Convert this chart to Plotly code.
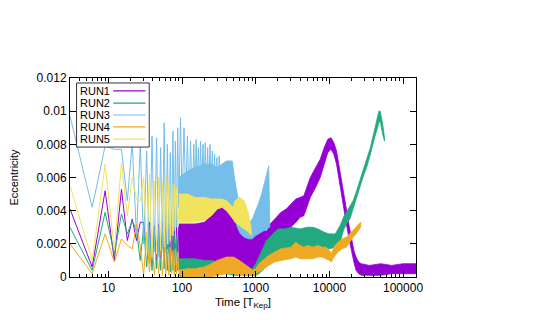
import math
import plotly.graph_objects as go

# ---------------- data ----------------
RUN_NAMES = ["RUN1", "RUN2", "RUN3", "RUN4", "RUN5"]
RUN_COLORS = ["#9400d3", "#22a97f", "#74bee9", "#eeaa24", "#f2e35c"]

# early, individually visible samples (t = 3 ... 90)
T_EARLY = [3, 6, 9, 12, 15, 18, 21, 24, 27, 30, 33, 36, 39, 42, 45,
           48, 51, 54, 57, 60, 63, 66, 69, 72, 75, 78, 81, 84, 87, 90]

RUN1_EARLY = [0.0041, 0.0006, 0.0052, 0.0010, 0.0053, 0.0022, 0.0035, 0.0022, 0.0033, 0.0033,
              0.0016, 0.0033, 0.0012, 0.0031, 0.0010,
              0.0032, 0.0011, 0.0033, 0.0009, 0.0031, 0.0010, 0.0032, 0.0009, 0.0031, 0.0010,
              0.0030, 0.0009, 0.0032, 0.0010, 0.0031]
RUN2_EARLY = [0.0030, 0.0004, 0.0039, 0.0014, 0.0038, 0.0026, 0.0034, 0.0028, 0.0010, 0.0030,
              0.0006, 0.0029, 0.0004, 0.0028, 0.0005,
              0.0027, 0.0004, 0.0026, 0.0005, 0.0027, 0.0004, 0.0026, 0.0003, 0.0025, 0.0004,
              0.0026, 0.0003, 0.0024, 0.0004, 0.0011]
RUN3_EARLY = [0.0097, 0.0042, 0.0079, 0.0077, 0.0077, 0.0046, 0.0081, 0.0024, 0.0080, 0.0020,
              0.0076, 0.0008, 0.0085, 0.0015, 0.0084,
              0.0012, 0.0078, 0.0018, 0.0093, 0.0015, 0.0080, 0.0020, 0.0075, 0.0025, 0.0088,
              0.0028, 0.0082, 0.0030, 0.0090, 0.0042]
RUN4_EARLY = [0.0020, 0.0002, 0.0026, 0.0009, 0.0023, 0.0019, 0.0017, 0.0032, 0.0018, 0.0001,
              0.0027, 0.0003, 0.0022, 0.0001, 0.0020,
              0.0002, 0.0019, 0.0001, 0.0018, 0.0002, 0.0017, 0.0001, 0.0018, 0.0002, 0.0016,
              0.0001, 0.0017, 0.0002, 0.0015, 0.0004]
RUN5_EARLY = [0.0055, 0.0010, 0.0068, 0.0016, 0.0069, 0.0037, 0.0060, 0.0047, 0.0046, 0.0060,
              0.0015, 0.0062, 0.0012, 0.0058, 0.0014,
              0.0060, 0.0016, 0.0057, 0.0018, 0.0062, 0.0020, 0.0058, 0.0022, 0.0055, 0.0025,
              0.0056, 0.0028, 0.0054, 0.0030, 0.0040]

# dense oscillating part: envelope (low / high) of each run
RUN1_T = [90, 120, 150, 200, 250, 300, 350, 400, 500, 600, 750, 900, 1000, 1200, 1500, 1800,
          2200, 2600, 3000, 3500, 4000, 4500, 5500, 6500, 7500, 8500, 9500, 10500, 11500, 12500,
          14000, 15500, 17000, 18500, 20000, 21500, 23000, 25000, 27000, 35000, 50000, 70000,
          100000, 150000]
RUN1_LO = [0.0009, 0.0009, 0.0009, 0.0008, 0.0008, 0.0008, 0.0008, 0.0008, 0.0007, 0.0005,
           0.0003, 0.0002, 0.0002, 0.0004, 0.0008, 0.0016, 0.0022, 0.0026, 0.0030, 0.0033,
           0.0036, 0.0037, 0.0048, 0.0054, 0.0060, 0.0068, 0.0075, 0.0077, 0.0074, 0.0068,
           0.0056, 0.0043, 0.0032, 0.0023, 0.0015, 0.0009, 0.0004, 0.0002, 0.0001, 0.0001,
           0.0001, 0.0002, 0.0002, 0.0002]
RUN1_HI = [0.0032, 0.0032, 0.0032, 0.0033, 0.0037, 0.0041, 0.0042, 0.0040, 0.0035, 0.0030,
           0.0027, 0.0025, 0.0026, 0.0029, 0.0031, 0.0035, 0.0039, 0.0041, 0.0044, 0.0047,
           0.0048, 0.0049, 0.0060, 0.0066, 0.0071, 0.0078, 0.0083, 0.0084, 0.0081, 0.0076,
           0.0064, 0.0052, 0.0041, 0.0031, 0.0023, 0.0016, 0.0012, 0.0009, 0.0008, 0.0007,
           0.0008, 0.0007, 0.0008, 0.0008]

RUN2_T = [90, 120, 150, 200, 250, 300, 400, 500, 700, 900, 1000, 1100, 1200, 1400, 1700, 2000,
          2500, 3000, 4000, 5000, 6000, 7000, 8500, 10000, 12000, 14000, 15500, 17000, 19000,
          21000, 23000, 26000, 29000, 32000, 36000, 40000, 44000, 47000, 49000, 51000, 53000,
          56000]
RUN2_LO = [0.0003, 0.0003, 0.0003, 0.0003, 0.0003, 0.0002, 0.0002, 0.0001, 0.0001, 0.0001,
           0.0001, 0.0002, 0.0003, 0.0006, 0.0010, 0.0013, 0.0015, 0.0016, 0.0017, 0.0016,
           0.0017, 0.0018, 0.0017, 0.0017, 0.0018, 0.0021, 0.0028, 0.0032, 0.0035, 0.0040,
           0.0046, 0.0054, 0.0061, 0.0066, 0.0074, 0.0082, 0.0089, 0.0093, 0.0094, 0.0090,
           0.0086, 0.0082]
RUN2_HI = [0.0011, 0.0011, 0.0011, 0.0010, 0.0010, 0.0009, 0.0008, 0.0007, 0.0006, 0.0005,
           0.0008, 0.0012, 0.0016, 0.0022, 0.0026, 0.0029, 0.0029, 0.0030, 0.0029, 0.0030,
           0.0030, 0.0029, 0.0027, 0.0026, 0.0026, 0.0031, 0.0036, 0.0039, 0.0042, 0.0046,
           0.0051, 0.0059, 0.0066, 0.0071, 0.0078, 0.0087, 0.0095, 0.0100, 0.0100, 0.0096,
           0.0092, 0.0084]

RUN3_T = [90, 120, 150, 200, 250, 300, 400, 480, 520, 560, 620, 700, 800, 900, 1000, 1100,
          1200, 1300, 1400, 1500, 1550]
RUN3_LO = [0.0040, 0.0041, 0.0042, 0.0045, 0.0045, 0.0044, 0.0042, 0.0040, 0.0036, 0.0030,
           0.0026, 0.0024, 0.0023, 0.0023, 0.0025, 0.0026, 0.0027, 0.0028, 0.0028, 0.0030,
           0.0030]
RUN3_HI = [0.0060, 0.0064, 0.0066, 0.0068, 0.0068, 0.0066, 0.0070, 0.0070, 0.0058, 0.0050,
           0.0040, 0.0031, 0.0032, 0.0035, 0.0040, 0.0045, 0.0050, 0.0056, 0.0062, 0.0067,
           0.0035]
# RUN3 spikes sticking out above its dense part
RUN3_SPIKE_T = [90, 95, 100, 106, 112, 118, 124, 130, 137, 144, 150, 155, 160, 166, 172, 178,
                185, 192, 199, 206, 214, 222, 230, 239, 248, 257, 266, 276, 286, 296, 307, 318,
                330, 342, 355]
RUN3_SPIKE = [0.0042, 0.0096, 0.0045, 0.0090, 0.0046, 0.0085, 0.0045, 0.0082, 0.0046, 0.0080,
              0.0048, 0.0083, 0.0050, 0.0078, 0.0052, 0.0082, 0.0050, 0.0080, 0.0052, 0.0081,
              0.0050, 0.0078, 0.0052, 0.0080, 0.0050, 0.0076, 0.0052, 0.0074, 0.0050, 0.0072,
              0.0050, 0.0073, 0.0050, 0.0068, 0.0050]

RUN4_T = [90, 120, 150, 200, 250, 300, 400, 500, 600, 700, 800, 900, 1000, 1100, 1300, 1500,
          1800, 2200, 3000, 3500, 4000, 4500, 5000, 6000, 7000, 8000, 9000, 10000, 10600, 11500,
          13000, 15000, 17000, 19000, 21000, 23000, 25000, 26600]
RUN4_LO = [0.0000, 0.0000, 0.0000, 0.0000, 0.0000, 0.0001, 0.0002, 0.0002, 0.0001, 0.0001,
           0.0001, 0.0001, 0.0002, 0.0003, 0.0005, 0.0007, 0.0009, 0.0010, 0.0011, 0.0012,
           0.0011, 0.0011, 0.0011, 0.0011, 0.0012, 0.0012, 0.0011, 0.0010, 0.0009, 0.0012,
           0.0015, 0.0017, 0.0018, 0.0021, 0.0024, 0.0026, 0.0028, 0.0030]
RUN4_HI = [0.0004, 0.0005, 0.0005, 0.0006, 0.0008, 0.0010, 0.0012, 0.0012, 0.0010, 0.0008,
           0.0006, 0.0004, 0.0005, 0.0008, 0.0011, 0.0013, 0.0015, 0.0017, 0.0018, 0.0021,
           0.0019, 0.0018, 0.0019, 0.0018, 0.0019, 0.0018, 0.0018, 0.0016, 0.0014, 0.0018,
           0.0021, 0.0023, 0.0024, 0.0026, 0.0028, 0.0030, 0.0032, 0.0033]

RUN5_T = [90, 120, 150, 200, 250, 300, 350, 400, 450, 490, 520, 600, 700, 800, 870]
RUN5_LO = [0.0033, 0.0033, 0.0033, 0.0034, 0.0037, 0.0041, 0.0042, 0.0040, 0.0037, 0.0035,
           0.0033, 0.0031, 0.0029, 0.0027, 0.0025]
RUN5_HI = [0.0050, 0.0050, 0.0048, 0.0048, 0.0047, 0.0047, 0.0047, 0.0046, 0.0044, 0.0042,
           0.0046, 0.0048, 0.0046, 0.0038, 0.0029]

X_TICKS = [10, 100, 1000, 10000, 100000]
X_TICK_TEXT = ["10", "100", "1000", "10000", "100000"]
Y_TICKS = [0, 0.002, 0.004, 0.006, 0.008, 0.01, 0.012]
Y_TICK_TEXT = ["0", "0.002", "0.004", "0.006", "0.008", "0.01", "0.012"]
X_RANGE = [3, 150000]
Y_RANGE = [0, 0.012]

EARLY = [RUN1_EARLY, RUN2_EARLY, RUN3_EARLY, RUN4_EARLY, RUN5_EARLY]
BANDS = [(RUN1_T, RUN1_LO, RUN1_HI), (RUN2_T, RUN2_LO, RUN2_HI), (RUN3_T, RUN3_LO, RUN3_HI),
         (RUN4_T, RUN4_LO, RUN4_HI), (RUN5_T, RUN5_LO, RUN5_HI)]

# ---------------- figure ----------------
fig = go.Figure()
for i, name in enumerate(RUN_NAMES):
    col = RUN_COLORS[i]
    t, lo, hi = BANDS[i]
    fig.add_trace(go.Scatter(x=t + t[::-1], y=hi + lo[::-1], fill="toself", fillcolor=col,
                             mode="lines", line=dict(color=col, width=0.8),
                             name=name, showlegend=False, hoverinfo="skip"))
    fig.add_trace(go.Scatter(x=T_EARLY, y=EARLY[i], mode="lines",
                             line=dict(color=col, width=1), name=name, showlegend=False))
    if name == "RUN3":
        fig.add_trace(go.Scatter(x=RUN3_SPIKE_T, y=RUN3_SPIKE, mode="lines",
                                 line=dict(color=col, width=1), showlegend=False))

# minor tick positions of the log axis
minor_vals = [m * 10 ** k for k in range(0, 6) for m in range(2, 10)
              if X_RANGE[0] < m * 10 ** k < X_RANGE[1]]

axis_common = dict(showline=True, linecolor="black", linewidth=1, mirror="allticks",
                   ticks="inside", ticklen=6, tickcolor="black", tickwidth=1,
                   showgrid=False, zeroline=False, tickfont=dict(size=12), automargin=False)

# the page body adds an 8 px offset, margins compensate for it
fig.update_layout(
    width=545, height=327,
    margin=dict(l=62, r=137, t=70, b=58),
    plot_bgcolor="white", paper_bgcolor="white",
    showlegend=False,
    font=dict(family="Liberation Sans, Arial, sans-serif", size=11, color="black"),
    xaxis=dict(type="log", range=[math.log10(X_RANGE[0]), math.log10(X_RANGE[1])],
               tickmode="array", tickvals=X_TICKS, ticktext=X_TICK_TEXT,
               minor=dict(tickmode="array", tickvals=minor_vals, ticks="inside", ticklen=3,
                          tickcolor="black", showgrid=False),
               title=dict(text="Time [T<sub>Kep</sub>]", standoff=3, font=dict(size=11.5)),
               **axis_common),
    yaxis=dict(range=Y_RANGE, tickmode="array", tickvals=Y_TICKS, ticktext=Y_TICK_TEXT,
               title=dict(text="Eccentricity", standoff=15, font=dict(size=11)),
               **axis_common),
)

# key box in the upper left (text left, sample line right, like the original)
fig.add_shape(type="rect", xref="paper", yref="paper", x0=0.019, x1=0.229, y0=0.653, y1=0.975,
              line=dict(color="#333333", width=1), fillcolor="white", layer="above")
row_y = [0.935, 0.874, 0.814, 0.754, 0.693]
for i, name in enumerate(RUN_NAMES):
    fig.add_annotation(xref="paper", yref="paper", x=0.022, y=row_y[i], text=name,
                       showarrow=False, xanchor="left", yanchor="middle",
                       font=dict(size=11, color="black"))
    fig.add_shape(type="line", xref="paper", yref="paper", x0=0.125, x1=0.218,
                  y0=row_y[i], y1=row_y[i], line=dict(color=RUN_COLORS[i], width=1.2),
                  layer="above")

fig.write_html("out.html")
